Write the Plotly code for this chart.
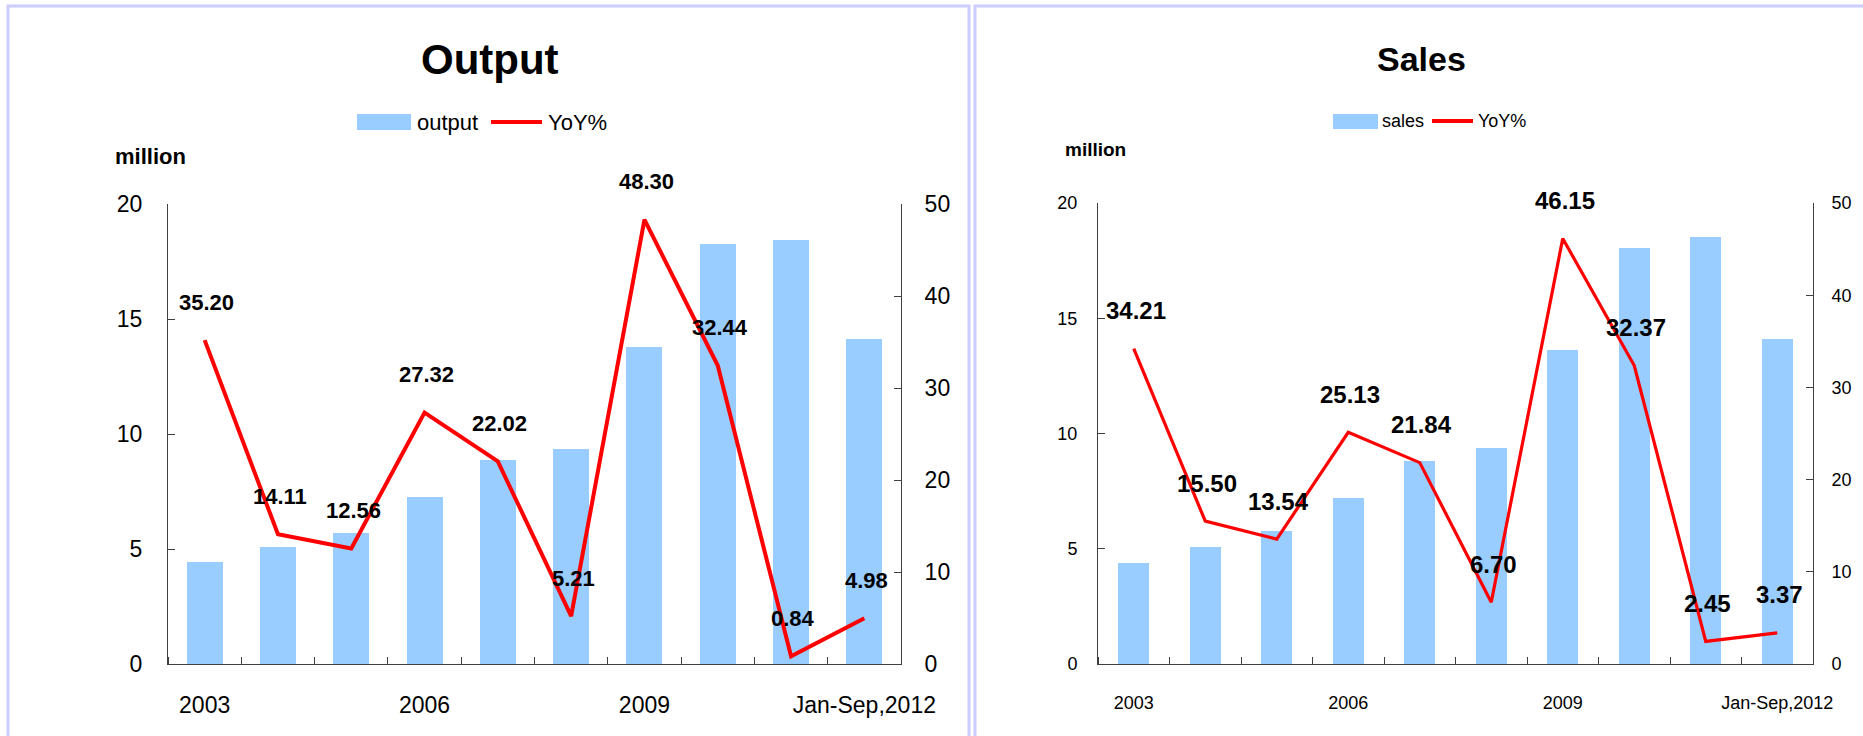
import plotly.graph_objects as go

# ---------------- data ----------------
categories = ["2003", "2004", "2005", "2006", "2007", "2008", "2009", "2010", "2011", "Jan-Sep,2012"]
shown_ticks = ["2003", "2006", "2009", "Jan-Sep,2012"]

output_million = [4.44, 5.07, 5.71, 7.28, 8.88, 9.35, 13.79, 18.26, 18.42, 14.15]
output_yoy = [35.20, 14.11, 12.56, 27.32, 22.02, 5.21, 48.30, 32.44, 0.84, 4.98]

sales_million = [4.39, 5.07, 5.76, 7.22, 8.79, 9.38, 13.64, 18.06, 18.51, 14.12]
sales_yoy = [34.21, 15.50, 13.54, 25.13, 21.84, 6.70, 46.15, 32.37, 2.45, 3.37]

left_ticks = [0, 5, 10, 15, 20]
right_ticks = [0, 10, 20, 30, 40, 50]

# ---------------- styling ----------------
W, H = 1863, 736
BAR = "#99ccff"
RED = "#ff0000"
AX = "#404040"
BORDER = "#ccccff"
FONT = "Liberation Sans, Arial, sans-serif"


def px(x):
    return x / W


def py(y):
    return 1 - y / H


idx = list(range(len(categories)))
tickpos = [categories.index(c) for c in shown_ticks]
bounds = [i - 0.5 for i in range(len(categories) + 1)]

fig = go.Figure()

panels = [
    dict(xa="x", ya="y", ya2="y2", bars=output_million, yoy=output_yoy, bw=0.49, lw=4,
         lab=22, tick=23, dom_x=(168, 901), dom_y=(204, 664), name="output"),
    dict(xa="x2", ya="y3", ya2="y4", bars=sales_million, yoy=sales_yoy, bw=0.44, lw=3.2,
         lab=24, tick=18, dom_x=(1098, 1813), dom_y=(203, 664), name="sales"),
]

annotations = []
for p in panels:
    fig.add_trace(go.Bar(x=idx, y=p["bars"], marker=dict(color=BAR, line=dict(width=0)),
                         width=p["bw"], xaxis=p["xa"], yaxis=p["ya"], name=p["name"],
                         showlegend=False))
    fig.add_trace(go.Scatter(x=idx, y=p["yoy"], mode="lines", line=dict(color=RED, width=p["lw"]),
                             xaxis=p["xa"], yaxis=p["ya2"], name="YoY%", showlegend=False))
    for i, v in zip(idx, p["yoy"]):
        annotations.append(dict(x=i, y=v, xref=p["xa"], yref=p["ya2"], text=f"{v:.2f}",
                                showarrow=False, yshift=38, xshift=2, xanchor="center", yanchor="middle",
                                font=dict(family=FONT, size=p["lab"], color="black", weight="bold")))


def xaxis_cfg(p, anchor):
    return dict(
        tickmode="array", tickvals=tickpos, ticktext=shown_ticks, ticks="",
        showline=True, linecolor=AX, linewidth=1, showgrid=False, zeroline=False,
        range=[-0.5, len(categories) - 0.5], automargin=False,
        minor=dict(tickmode="array", tickvals=bounds, ticks="inside", ticklen=7, tickcolor=AX,
                   tickwidth=1, showgrid=False),
        ticklabelstandoff=20 if p["tick"] > 20 else 22,
        domain=[px(p["dom_x"][0]), px(p["dom_x"][1])], anchor=anchor,
        tickfont=dict(family=FONT, size=p["tick"], color="black"),
    )


def yaxis_cfg(p, anchor, rng, vals, standoff, side="left", overlay=None):
    d = dict(anchor=anchor, range=rng, tickmode="array", tickvals=vals, ticks="inside", ticklen=7,
             tickcolor=AX, showline=True, linecolor=AX, linewidth=1, showgrid=False, zeroline=False,
             ticklabelstandoff=standoff, automargin=False, side=side,
             tickfont=dict(family=FONT, size=p["tick"], color="black"))
    if overlay:
        d["overlaying"] = overlay
    else:
        d["domain"] = [py(p["dom_y"][1]), py(p["dom_y"][0])]
    return d


lp, rp = panels
fig.update_layout(
    template="none",
    width=W, height=H, margin=dict(l=0, r=0, t=0, b=0, pad=0),
    paper_bgcolor="white", plot_bgcolor="white", bargap=0, showlegend=False,
    font=dict(family=FONT, color="black"),
    xaxis=xaxis_cfg(lp, "y"),
    yaxis=yaxis_cfg(lp, "x", [0, 20], left_ticks, 20),
    yaxis2=yaxis_cfg(lp, "x", [0, 50], right_ticks, 18, side="right", overlay="y"),
    xaxis2=xaxis_cfg(rp, "y3"),
    yaxis3=yaxis_cfg(rp, "x2", [0, 20], left_ticks, 16),
    yaxis4=yaxis_cfg(rp, "x2", [0, 50], right_ticks, 14, side="right", overlay="y3"),
)

shapes = [
    # panel borders
    dict(type="rect", xref="paper", yref="paper", x0=px(8), x1=px(969), y0=py(760), y1=py(6),
         line=dict(color=BORDER, width=3), fillcolor="rgba(0,0,0,0)", layer="below"),
    dict(type="rect", xref="paper", yref="paper", x0=px(975), x1=px(1890), y0=py(760), y1=py(6),
         line=dict(color=BORDER, width=3), fillcolor="rgba(0,0,0,0)", layer="below"),
    # custom legends
    dict(type="rect", xref="paper", yref="paper", x0=px(357), x1=px(411), y0=py(130), y1=py(114),
         fillcolor=BAR, line=dict(width=0)),
    dict(type="line", xref="paper", yref="paper", x0=px(491), x1=px(542), y0=py(122), y1=py(122),
         line=dict(color=RED, width=4)),
    dict(type="rect", xref="paper", yref="paper", x0=px(1333), x1=px(1378), y0=py(129), y1=py(114),
         fillcolor=BAR, line=dict(width=0)),
    dict(type="line", xref="paper", yref="paper", x0=px(1432), x1=px(1473), y0=py(121), y1=py(121),
         line=dict(color=RED, width=4)),
]


def note(text, x, y, size, bold=False, xanchor="center"):
    return dict(text=text, x=px(x), y=py(y), xref="paper", yref="paper", showarrow=False,
                xanchor=xanchor, yanchor="middle",
                font=dict(family=FONT, size=size, color="black", weight="bold" if bold else "normal"))


annotations += [
    note("Output", 490, 59, 42, True),
    note("output", 415, 122, 22, False, "left"),
    note("YoY%", 546, 122, 22, False, "left"),
    note("million", 113, 157, 22, True, "left"),
    note("Sales", 1421, 59, 34, True),
    note("sales", 1380, 121, 18, False, "left"),
    note("YoY%", 1476, 121, 18, False, "left"),
    note("million", 1063, 149, 19, True, "left"),
]

fig.update_layout(shapes=shapes, annotations=annotations)
fig.write_html("out.html")
